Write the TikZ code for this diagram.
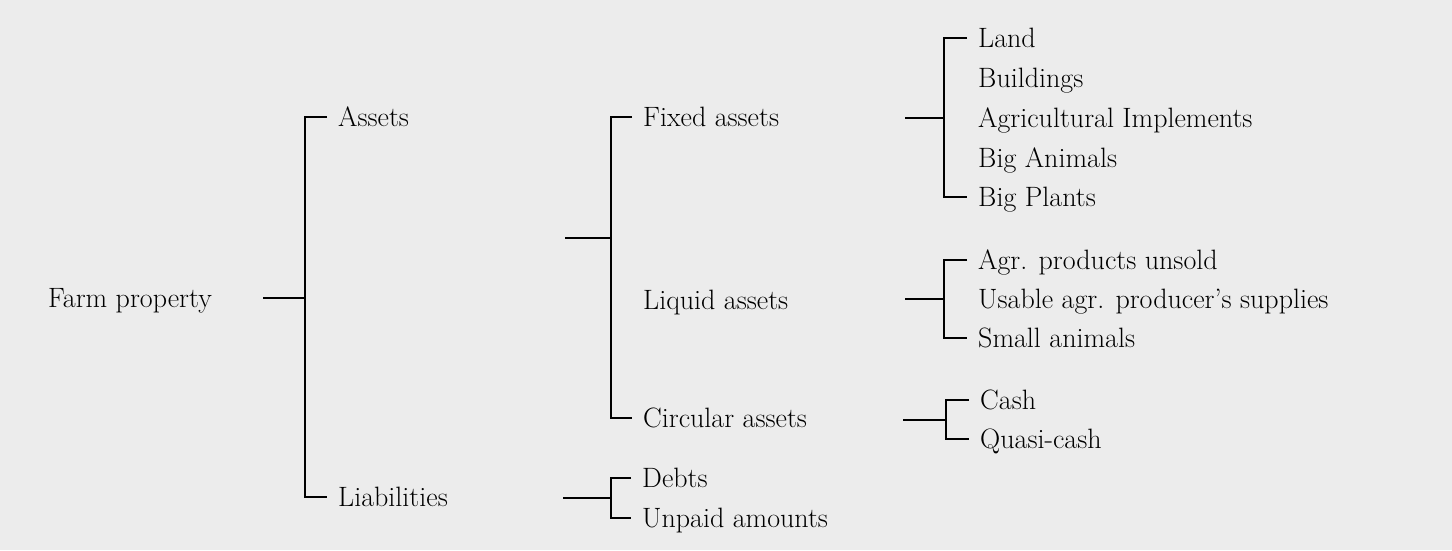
\documentclass[tikz,border=0pt]{standalone}
\definecolor{paper}{RGB}{236,236,236}
\begin{document}
\begin{tikzpicture}[x=1pt,y=-1pt,
  txt/.style={anchor=west,inner ysep=0pt,text height=19pt,text depth=0pt,font=\fontsize{28}{32}\selectfont},
  lbl/.style={txt,inner xsep=11pt},
  plain/.style={txt,inner xsep=0pt},
  conn/.style={line width=1.5pt}]
\fill[paper] (0,0) rectangle (1452,550);
\useasboundingbox (0,0) rectangle (1452,550);
% level 0
\node[plain] (fp) at (48,298) {Farm property};
\coordinate (c0) at (263,298);
\coordinate (b0) at (305,298);
\node[lbl] (as) at (327,117) {Assets};
\node[lbl] (li) at (327,497) {Liabilities};
% level 1: assets
\coordinate (c1) at (565,238);
\coordinate (b1) at (611,238);
\node[lbl] (fa) at (632,117) {Fixed assets};
\node[plain] (la) at (643,300) {Liquid assets};
\node[lbl] (ca) at (632,418) {Circular assets};
% level 1: liabilities
\coordinate (c2) at (563,498);
\coordinate (b2) at (611,498);
\node[lbl] (de) at (631,478) {Debts};
\node[lbl] (un) at (631,518) {Unpaid amounts};
% level 2: fixed
\coordinate (c3) at (905,118);
\coordinate (b3) at (944,118);
\node[lbl] (l1) at (967,38) {Land};
\node[plain] (l2) at (978,78) {Buildings};
\node[plain] (l3) at (978,118) {Agricultural Implements};
\node[plain] (l4) at (978,158) {Big Animals};
\node[lbl] (l5) at (967,197) {Big Plants};
% level 2: liquid
\coordinate (c4) at (905,299);
\coordinate (b4) at (944,299);
\node[lbl] (q1) at (967,260) {Agr. products unsold};
\node[plain] (q2) at (978,299) {Usable agr. producer's supplies};
\node[lbl] (q3) at (967,338) {Small animals};
% level 2: circular
\coordinate (c5) at (903,420);
\coordinate (b5) at (946,420);
\node[lbl] (k1) at (969,400) {Cash};
\node[lbl] (k2) at (969,439) {Quasi-cash};
% connectors
\draw[conn] (c0) -- (b0);
\draw[conn] (as.west) -| (b0) |- (li.west);
\draw[conn] (c1) -- (b1);
\draw[conn] (fa.west) -| (b1) |- (ca.west);
\draw[conn] (c2) -- (b2);
\draw[conn] (de.west) -| (b2) |- (un.west);
\draw[conn] (c3) -- (b3);
\draw[conn] (l1.west) -| (b3) |- (l5.west);
\draw[conn] (c4) -- (b4);
\draw[conn] (q1.west) -| (b4) |- (q3.west);
\draw[conn] (c5) -- (b5);
\draw[conn] (k1.west) -| (b5) |- (k2.west);
\end{tikzpicture}
\end{document}
